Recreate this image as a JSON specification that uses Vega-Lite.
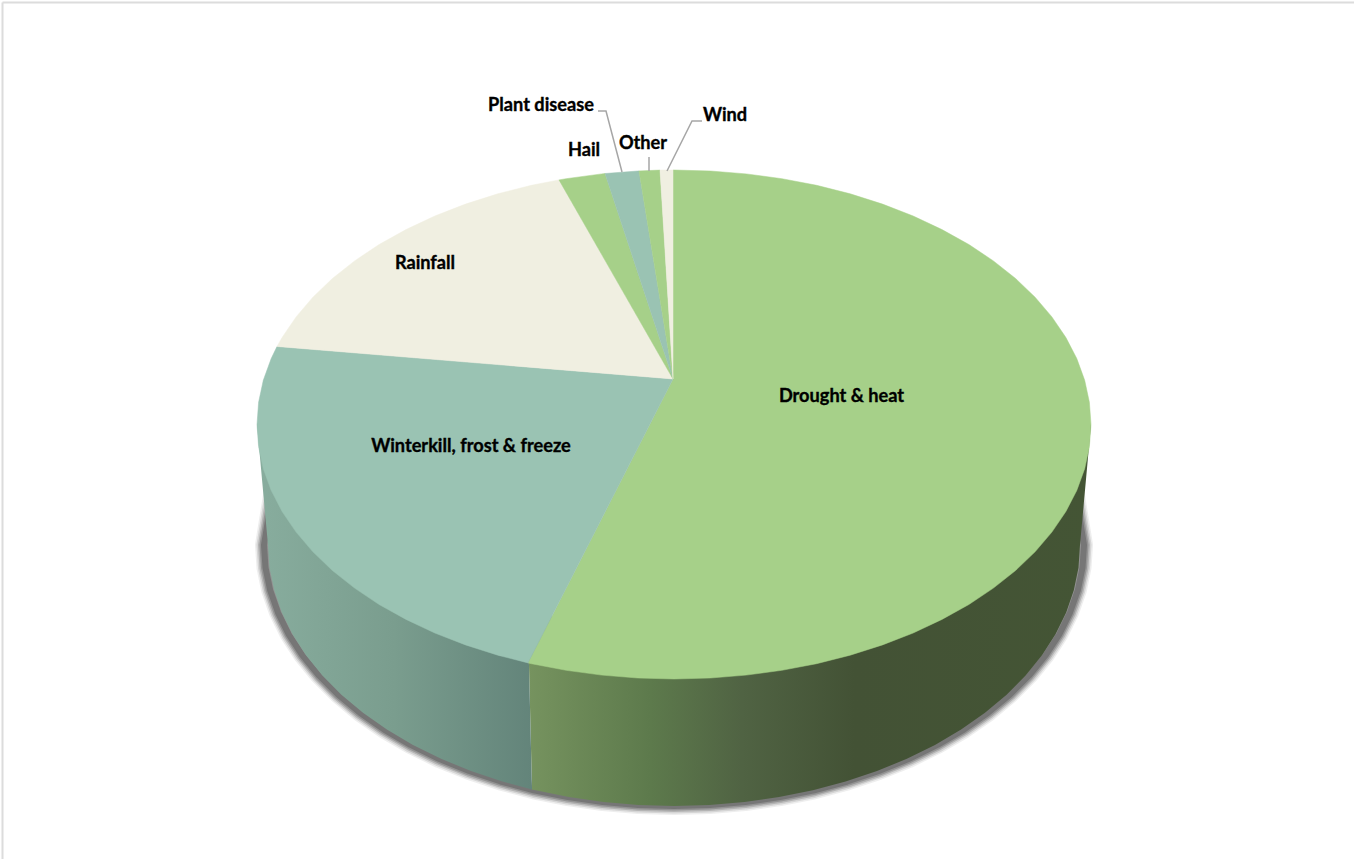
{
"$schema":"https://vega.github.io/schema/vega-lite/v6.json",
"width":1354,"height":859,"padding":0,"autosize":{"type":"none"},"background":"white",
"config":{"view":{"stroke":null}},
"datasets":{
"frame":[{"s":"top","i":0,"x":-671.5,"y":422},{"s":"top","i":1,"x":680,"y":422},{"s":"left","i":0,"x":-671.5,"y":422},{"s":"left","i":1,"x":-671.5,"y":-434.5}],
"shadowEdge":[{"i":0,"x":401,"y":-65},{"i":1,"x":410,"y":-120.5},{"i":2,"x":408.5,"y":-143.2},{"i":3,"x":403.8,"y":-165.8},{"i":4,"x":396,"y":-188.1},{"i":5,"x":385.3,"y":-209.8},{"i":6,"x":371.6,"y":-230.8},{"i":7,"x":355.1,"y":-251},{"i":8,"x":335.9,"y":-270.2},{"i":9,"x":314.1,"y":-288.3},{"i":10,"x":289.9,"y":-305.1},{"i":11,"x":263.6,"y":-320.4},{"i":12,"x":235.2,"y":-334.3},{"i":13,"x":205,"y":-346.5},{"i":14,"x":173.3,"y":-357},{"i":15,"x":140.3,"y":-365.8},{"i":16,"x":106.1,"y":-372.6},{"i":17,"x":71.2,"y":-377.5},{"i":18,"x":35.7,"y":-380.5},{"i":19,"x":0,"y":-381.5},{"i":20,"x":-35.7,"y":-380.5},{"i":21,"x":-71.2,"y":-377.5},{"i":22,"x":-106.1,"y":-372.6},{"i":23,"x":-140.3,"y":-365.8},{"i":24,"x":-173.3,"y":-357},{"i":25,"x":-205,"y":-346.5},{"i":26,"x":-235.2,"y":-334.3},{"i":27,"x":-263.6,"y":-320.4},{"i":28,"x":-289.9,"y":-305.1},{"i":29,"x":-314.1,"y":-288.3},{"i":30,"x":-335.9,"y":-270.2},{"i":31,"x":-355.1,"y":-251},{"i":32,"x":-371.6,"y":-230.8},{"i":33,"x":-385.3,"y":-209.8},{"i":34,"x":-396,"y":-188.1},{"i":35,"x":-403.8,"y":-165.8},{"i":36,"x":-408.5,"y":-143.2},{"i":37,"x":-410,"y":-120.5},{"i":38,"x":-401,"y":-65}],
"sideDrought":[{"i":0,"x":-146,"y":-200},{"i":1,"x":417,"y":0},{"i":2,"x":406,"y":-120.5},{"i":3,"x":404.5,"y":-143.2},{"i":4,"x":399.8,"y":-165.8},{"i":5,"x":392.2,"y":-188.1},{"i":6,"x":381.5,"y":-209.8},{"i":7,"x":368,"y":-230.8},{"i":8,"x":351.6,"y":-251},{"i":9,"x":332.6,"y":-270.2},{"i":10,"x":311,"y":-288.3},{"i":11,"x":287.1,"y":-305.1},{"i":12,"x":261,"y":-320.4},{"i":13,"x":232.9,"y":-334.3},{"i":14,"x":203,"y":-346.5},{"i":15,"x":171.6,"y":-357},{"i":16,"x":138.9,"y":-365.8},{"i":17,"x":105.1,"y":-372.6},{"i":18,"x":70.5,"y":-377.5},{"i":19,"x":35.4,"y":-380.5},{"i":20,"x":0,"y":-381.5},{"i":21,"x":-35.4,"y":-380.5},{"i":22,"x":-70.5,"y":-377.5},{"i":23,"x":-105.1,"y":-372.6},{"i":24,"x":-142,"y":-365},{"i":25,"x":-146,"y":-200}],
"sideWinter":[{"i":0,"x":-146,"y":-200},{"i":1,"x":-142,"y":-365},{"i":2,"x":-171.6,"y":-357},{"i":3,"x":-203,"y":-346.5},{"i":4,"x":-232.9,"y":-334.3},{"i":5,"x":-261,"y":-320.4},{"i":6,"x":-287.1,"y":-305.1},{"i":7,"x":-311,"y":-288.3},{"i":8,"x":-332.6,"y":-270.2},{"i":9,"x":-351.6,"y":-251},{"i":10,"x":-368,"y":-230.8},{"i":11,"x":-381.5,"y":-209.8},{"i":12,"x":-392.2,"y":-188.1},{"i":13,"x":-399.8,"y":-165.8},{"i":14,"x":-404.5,"y":-143.2},{"i":15,"x":-406,"y":-120.5},{"i":16,"x":-417,"y":0},{"i":17,"x":-146,"y":-200}],
"topFace":[
{"s":"Drought & heat","i":0,"x":-1,"y":45.5},{"s":"Drought & heat","i":1,"x":-1,"y":254.5},{"s":"Drought & heat","i":2,"x":0,"y":254.5},{"s":"Drought & heat","i":3,"x":36.4,"y":253.5},{"s":"Drought & heat","i":4,"x":72.4,"y":250.6},{"s":"Drought & heat","i":5,"x":107.9,"y":245.8},{"s":"Drought & heat","i":6,"x":142.6,"y":239.2},{"s":"Drought & heat","i":7,"x":176.2,"y":230.7},{"s":"Drought & heat","i":8,"x":208.5,"y":220.4},{"s":"Drought & heat","i":9,"x":239.2,"y":208.5},{"s":"Drought & heat","i":10,"x":268,"y":194.9},{"s":"Drought & heat","i":11,"x":294.9,"y":180},{"s":"Drought & heat","i":12,"x":319.4,"y":163.6},{"s":"Drought & heat","i":13,"x":341.6,"y":146},{"s":"Drought & heat","i":14,"x":361.1,"y":127.3},{"s":"Drought & heat","i":15,"x":377.9,"y":107.6},{"s":"Drought & heat","i":16,"x":391.9,"y":87},{"s":"Drought & heat","i":17,"x":402.8,"y":65.9},{"s":"Drought & heat","i":18,"x":410.7,"y":44.2},{"s":"Drought & heat","i":19,"x":415.4,"y":22.2},{"s":"Drought & heat","i":20,"x":417,"y":0},{"s":"Drought & heat","i":21,"x":415.4,"y":-22.2},{"s":"Drought & heat","i":22,"x":410.7,"y":-44.2},{"s":"Drought & heat","i":23,"x":402.8,"y":-65.9},{"s":"Drought & heat","i":24,"x":391.9,"y":-87},{"s":"Drought & heat","i":25,"x":377.9,"y":-107.6},{"s":"Drought & heat","i":26,"x":361.1,"y":-127.3},{"s":"Drought & heat","i":27,"x":341.6,"y":-146},{"s":"Drought & heat","i":28,"x":319.4,"y":-163.6},{"s":"Drought & heat","i":29,"x":294.9,"y":-180},{"s":"Drought & heat","i":30,"x":268,"y":-194.9},{"s":"Drought & heat","i":31,"x":239.2,"y":-208.5},{"s":"Drought & heat","i":32,"x":208.5,"y":-220.4},{"s":"Drought & heat","i":33,"x":176.2,"y":-230.7},{"s":"Drought & heat","i":34,"x":142.6,"y":-239.2},{"s":"Drought & heat","i":35,"x":107.9,"y":-245.8},{"s":"Drought & heat","i":36,"x":72.4,"y":-250.6},{"s":"Drought & heat","i":37,"x":36.4,"y":-253.5},{"s":"Drought & heat","i":38,"x":0,"y":-254.5},{"s":"Drought & heat","i":39,"x":-36.4,"y":-253.5},{"s":"Drought & heat","i":40,"x":-72.4,"y":-250.6},{"s":"Drought & heat","i":41,"x":-107.9,"y":-245.8},{"s":"Drought & heat","i":42,"x":-142.6,"y":-239.2},{"s":"Drought & heat","i":43,"x":-146,"y":-238.4},{"s":"Drought & heat","i":44,"x":-1,"y":45.5},
{"s":"Winterkill, frost & freeze","i":0,"x":-1,"y":45.5},{"s":"Winterkill, frost & freeze","i":1,"x":-146,"y":-238.4},{"s":"Winterkill, frost & freeze","i":2,"x":-176.2,"y":-230.7},{"s":"Winterkill, frost & freeze","i":3,"x":-208.5,"y":-220.4},{"s":"Winterkill, frost & freeze","i":4,"x":-239.2,"y":-208.5},{"s":"Winterkill, frost & freeze","i":5,"x":-268,"y":-194.9},{"s":"Winterkill, frost & freeze","i":6,"x":-294.9,"y":-180},{"s":"Winterkill, frost & freeze","i":7,"x":-319.4,"y":-163.6},{"s":"Winterkill, frost & freeze","i":8,"x":-341.6,"y":-146},{"s":"Winterkill, frost & freeze","i":9,"x":-361.1,"y":-127.3},{"s":"Winterkill, frost & freeze","i":10,"x":-377.9,"y":-107.6},{"s":"Winterkill, frost & freeze","i":11,"x":-391.9,"y":-87},{"s":"Winterkill, frost & freeze","i":12,"x":-402.8,"y":-65.9},{"s":"Winterkill, frost & freeze","i":13,"x":-410.7,"y":-44.2},{"s":"Winterkill, frost & freeze","i":14,"x":-415.4,"y":-22.2},{"s":"Winterkill, frost & freeze","i":15,"x":-417,"y":0},{"s":"Winterkill, frost & freeze","i":16,"x":-415.4,"y":22.2},{"s":"Winterkill, frost & freeze","i":17,"x":-410.7,"y":44.2},{"s":"Winterkill, frost & freeze","i":18,"x":-402.8,"y":65.9},{"s":"Winterkill, frost & freeze","i":19,"x":-397,"y":78},{"s":"Winterkill, frost & freeze","i":20,"x":-1,"y":45.5},
{"s":"Rainfall","i":0,"x":-1,"y":45.5},{"s":"Rainfall","i":1,"x":-397,"y":78},{"s":"Rainfall","i":2,"x":-391.9,"y":87},{"s":"Rainfall","i":3,"x":-377.9,"y":107.6},{"s":"Rainfall","i":4,"x":-361.1,"y":127.3},{"s":"Rainfall","i":5,"x":-341.6,"y":146},{"s":"Rainfall","i":6,"x":-319.4,"y":163.6},{"s":"Rainfall","i":7,"x":-294.9,"y":180},{"s":"Rainfall","i":8,"x":-268,"y":194.9},{"s":"Rainfall","i":9,"x":-239.2,"y":208.5},{"s":"Rainfall","i":10,"x":-208.5,"y":220.4},{"s":"Rainfall","i":11,"x":-176.2,"y":230.7},{"s":"Rainfall","i":12,"x":-142.6,"y":239.2},{"s":"Rainfall","i":13,"x":-115,"y":244.6},{"s":"Rainfall","i":14,"x":-1,"y":45.5},
{"s":"Hail","i":0,"x":-1,"y":45.5},{"s":"Hail","i":1,"x":-115,"y":244.6},{"s":"Hail","i":2,"x":-107.9,"y":245.8},{"s":"Hail","i":3,"x":-72.4,"y":250.6},{"s":"Hail","i":4,"x":-69,"y":251},{"s":"Hail","i":5,"x":-1,"y":45.5},
{"s":"Plant disease","i":0,"x":-1,"y":45.5},{"s":"Plant disease","i":1,"x":-69,"y":251},{"s":"Plant disease","i":2,"x":-36.4,"y":253.5},{"s":"Plant disease","i":3,"x":-35,"y":253.6},{"s":"Plant disease","i":4,"x":-1,"y":45.5},
{"s":"Other","i":0,"x":-1,"y":45.5},{"s":"Other","i":1,"x":-35,"y":253.6},{"s":"Other","i":2,"x":-14,"y":254.4},{"s":"Other","i":3,"x":-1,"y":45.5},
{"s":"Wind","i":0,"x":-1,"y":45.5},{"s":"Wind","i":1,"x":-14,"y":254.4},{"s":"Wind","i":2,"x":-1,"y":254.5},{"s":"Wind","i":3,"x":-1,"y":45.5}
],
"leaders":[{"s":"Plant disease","i":0,"x":-76,"y":313.5},{"s":"Plant disease","i":1,"x":-68,"y":313.5},{"s":"Plant disease","i":2,"x":-52,"y":252.5},{"s":"Other","i":0,"x":-25,"y":267.5},{"s":"Other","i":1,"x":-25,"y":253.5},{"s":"Wind","i":0,"x":28,"y":303.5},{"s":"Wind","i":1,"x":18,"y":303.5},{"s":"Wind","i":2,"x":-7,"y":253.5}],
"labels":[{"s":"Drought & heat","x":167.5,"y":28},{"s":"Winterkill, frost & freeze","x":-203,"y":-22},{"s":"Rainfall","x":-249,"y":161},{"s":"Hail","x":-90,"y":274},{"s":"Plant disease","x":-133,"y":319},{"s":"Other","x":-31,"y":281},{"s":"Wind","x":51,"y":309}]
},
"encoding":{
"x":{"field":"x","type":"quantitative","axis":null,"scale":{"domain":[-674,680],"nice":false,"zero":false}},
"y":{"field":"y","type":"quantitative","axis":null,"scale":{"domain":[-434.5,424.5],"nice":false,"zero":false}}
},
"layer":[
{"data":{"name":"frame"},"mark":{"type":"line","stroke":"#dcdcdc","strokeWidth":2},"encoding":{"order":{"field":"i","type":"quantitative"},"detail":{"field":"s"}}},
{"data":{"name":"shadowEdge"},"mark":{"type":"line","stroke":"#222222","strokeWidth":18,"opacity":0.08,"strokeJoin":"round"},"encoding":{"order":{"field":"i","type":"quantitative"}}},
{"data":{"name":"shadowEdge"},"mark":{"type":"line","stroke":"#222222","strokeWidth":15,"opacity":0.12,"strokeJoin":"round"},"encoding":{"order":{"field":"i","type":"quantitative"}}},
{"data":{"name":"shadowEdge"},"mark":{"type":"line","stroke":"#222222","strokeWidth":12,"opacity":0.18,"strokeJoin":"round"},"encoding":{"order":{"field":"i","type":"quantitative"}}},
{"data":{"name":"shadowEdge"},"mark":{"type":"line","stroke":"#222222","strokeWidth":9,"opacity":0.22,"strokeJoin":"round"},"encoding":{"order":{"field":"i","type":"quantitative"}}},
{"data":{"name":"shadowEdge"},"mark":{"type":"line","stroke":"#222222","strokeWidth":6,"opacity":0.26,"strokeJoin":"round"},"encoding":{"order":{"field":"i","type":"quantitative"}}},
{"data":{"name":"sideDrought"},"mark":{"type":"line","filled":true,"stroke":null,"fill":{"gradient":"linear","x1":0,"y1":0,"x2":1,"y2":0,"stops":[{"offset":0,"color":"#76935f"},{"offset":0.217,"color":"#5d7a4c"},{"offset":0.38,"color":"#506343"},{"offset":0.58,"color":"#435235"},{"offset":1,"color":"#445535"}]}},"encoding":{"order":{"field":"i","type":"quantitative"}}},
{"data":{"name":"sideWinter"},"mark":{"type":"line","filled":true,"stroke":null,"fill":{"gradient":"linear","x1":0,"y1":0,"x2":1,"y2":0,"stops":[{"offset":0,"color":"#88ad9e"},{"offset":0.5,"color":"#7a9d8e"},{"offset":1,"color":"#63847a"}]}},"encoding":{"order":{"field":"i","type":"quantitative"}}},
{"data":{"name":"topFace"},"mark":{"type":"line","filled":true,"strokeWidth":0.5},"encoding":{"order":{"field":"i","type":"quantitative"},"fill":{"field":"s","type":"nominal","legend":null,"scale":{"domain":["Drought & heat","Winterkill, frost & freeze","Rainfall","Hail","Plant disease","Other","Wind"],"range":["#a6d089","#9ac3b3","#f0efe1","#a6d089","#9ac3b3","#a6d089","#f0efe1"]}},"stroke":{"field":"s","type":"nominal","legend":null,"scale":{"domain":["Drought & heat","Winterkill, frost & freeze","Rainfall","Hail","Plant disease","Other","Wind"],"range":["#a6d089","#9ac3b3","#f0efe1","#a6d089","#9ac3b3","#a6d089","#f0efe1"]}}}},
{"data":{"name":"leaders"},"mark":{"type":"line","stroke":"#a6a6a6","strokeWidth":1.5},"encoding":{"order":{"field":"i","type":"quantitative"},"detail":{"field":"s"}}},
{"data":{"name":"labels"},"mark":{"type":"text","font":"Lato","fontWeight":"bold","fontSize":18.2,"color":"#000000","stroke":"#000000","strokeWidth":0.35,"align":"center","baseline":"middle"},"encoding":{"text":{"field":"s"}}}
]
}
